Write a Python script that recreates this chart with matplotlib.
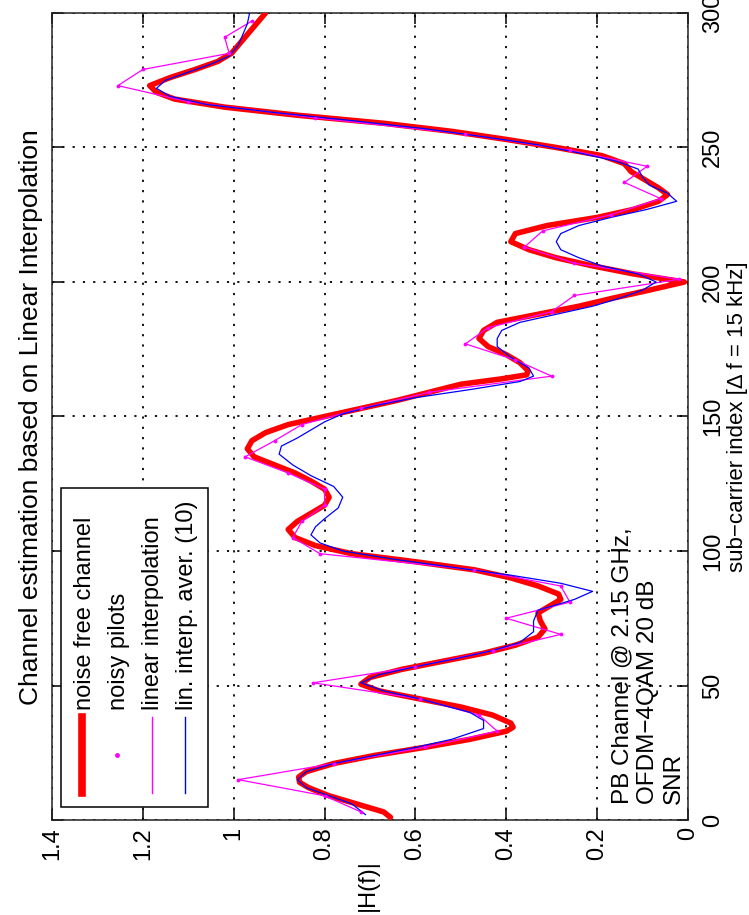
import matplotlib
matplotlib.use('Agg')
import matplotlib.pyplot as plt
from matplotlib.patches import Rectangle
from matplotlib.lines import Line2D

plt.rcParams['font.family'] = ['Liberation Sans', 'DejaVu Sans']

# ---------------- data ----------------
# noise free channel |H(f)| vs sub-carrier index
red_n = [1, 3, 6, 9, 12, 14, 16, 18, 21, 24, 27, 30, 33, 34.5, 36, 39, 42, 45, 48, 50.5,
         53, 56, 59, 62, 65, 68, 71, 74, 77, 80, 82, 84, 87, 90, 93, 96, 99, 102, 105, 108,
         111, 114, 117, 120, 123, 126, 129, 132, 135, 138, 141, 144, 147, 150, 153, 156, 159,
         162, 164, 165.5, 167, 170, 173, 176, 179, 182, 185, 188, 191, 194, 197, 200, 203,
         206, 209, 212, 215, 218, 221, 224, 227, 230, 232.5, 235, 238, 241, 244, 247, 250,
         253, 256, 259, 262, 265, 268, 270.5, 273, 276, 279, 282, 285, 288, 291, 294, 297, 300]
red_v = [0.655, 0.67, 0.73, 0.79, 0.835, 0.855, 0.857, 0.84, 0.78, 0.69, 0.58, 0.48, 0.40, 0.385,
         0.39, 0.43, 0.50, 0.59, 0.68, 0.72, 0.70, 0.63, 0.54, 0.45, 0.38, 0.33, 0.315, 0.325,
         0.33, 0.30, 0.28, 0.285, 0.33, 0.39, 0.47, 0.60, 0.74, 0.82, 0.865, 0.88, 0.86, 0.83,
         0.80, 0.79, 0.80, 0.83, 0.865, 0.91, 0.955, 0.97, 0.96, 0.93, 0.88, 0.80, 0.72, 0.64,
         0.57, 0.50, 0.41, 0.355, 0.352, 0.37, 0.40, 0.44, 0.46, 0.45, 0.42, 0.33, 0.24, 0.165,
         0.085, 0.008, 0.12, 0.21, 0.29, 0.35, 0.39, 0.38, 0.31, 0.20, 0.12, 0.065, 0.045,
         0.065, 0.095, 0.125, 0.14, 0.19, 0.29, 0.40, 0.52, 0.67, 0.86, 1.02, 1.13, 1.17,
         1.185, 1.14, 1.085, 1.035, 1.005, 0.99, 0.975, 0.96, 0.945, 0.93]

# noisy pilots (every 6th sub-carrier) -> linear interpolation
pilot_n = [3, 9, 15, 21, 27, 33, 39, 45, 51, 57, 63, 69, 75, 81, 87, 93, 99, 105, 111, 117,
           123, 129, 135, 141, 147, 153, 159, 165, 171, 177, 183, 189, 195, 201, 207, 213,
           219, 225, 231, 237, 243, 249, 255, 261, 267, 273, 279, 285, 291, 297]
pilot_v = [0.72, 0.80, 0.99, 0.78, 0.58, 0.42, 0.46, 0.59, 0.825, 0.60, 0.43, 0.28, 0.40,
           0.26, 0.28, 0.47, 0.81, 0.87, 0.85, 0.80, 0.80, 0.88, 0.975, 0.91, 0.85, 0.72,
           0.57, 0.30, 0.38, 0.49, 0.44, 0.30, 0.25, 0.02, 0.25, 0.36, 0.32, 0.17, 0.06,
           0.14, 0.09, 0.26, 0.49, 0.82, 1.10, 1.255, 1.20, 1.01, 1.02, 0.96]

# lin. interp. aver. (10)
blue_n = [2, 6, 9, 12, 15, 18, 21, 24, 27, 30, 34, 37, 40, 45, 48, 51, 54, 57, 60, 63, 66,
          70, 74, 78, 82, 85, 88, 91, 94, 97, 100, 103, 106, 109, 112, 116, 120, 124, 128,
          132, 136, 139, 142, 145, 148, 151, 154, 157, 160, 163, 165, 168, 172, 176, 179,
          182, 185, 188, 191, 194, 197, 200, 203, 206, 209, 212, 215, 218, 221, 224, 227,
          230, 233, 236, 239, 242, 245, 248, 251, 254, 257, 260, 263, 266, 269, 272, 275,
          278, 281, 284, 288, 292, 296, 300]
blue_v = [0.71, 0.74, 0.79, 0.84, 0.86, 0.84, 0.78, 0.69, 0.60, 0.52, 0.45, 0.45, 0.48,
          0.59, 0.67, 0.72, 0.68, 0.60, 0.51, 0.43, 0.37, 0.34, 0.34, 0.33, 0.25, 0.21, 0.28,
          0.39, 0.52, 0.65, 0.76, 0.81, 0.83, 0.82, 0.80, 0.77, 0.76, 0.78, 0.83, 0.87, 0.90,
          0.895, 0.86, 0.83, 0.80, 0.76, 0.69, 0.60, 0.48, 0.37, 0.34, 0.35, 0.39, 0.42, 0.42,
          0.41, 0.37, 0.29, 0.21, 0.15, 0.10, 0.07, 0.11, 0.19, 0.24, 0.28, 0.29, 0.28, 0.24,
          0.17, 0.09, 0.025, 0.045, 0.085, 0.10, 0.11, 0.16, 0.24, 0.33, 0.45, 0.58, 0.74,
          0.91, 1.06, 1.14, 1.17, 1.15, 1.10, 1.05, 1.01, 0.99, 0.98, 0.97, 0.965]

mag_ticks = [0, 0.2, 0.4, 0.6, 0.8, 1.0, 1.2, 1.4]
mag_labels = ['0', '0.2', '0.4', '0.6', '0.8', '1', '1.2', '1.4']
sc_ticks = [0, 50, 100, 150, 200, 250, 300]
sc_labels = ['0', '50', '100', '150', '200', '250', '300']
legend_labels = ['noise free channel', 'noisy pilots', 'linear interpolation',
                 'lin. interp. aver. (10)']

# ---------------- figure ----------------
W, H = 749, 915
FS = 17
fig = plt.figure(figsize=(W / 100, H / 100), dpi=100)
fig.patch.set_facecolor('white')


def fx(px):
    return px / W


def fy(py):
    return 1 - py / H


ax = fig.add_axes([fx(52), fy(820), (688 - 52) / W, (820 - 13) / H])
ax.plot(red_v, red_n, color='#ff0000', lw=4, solid_joinstyle='round',
        solid_capstyle='round', zorder=3)
ax.plot(pilot_v, pilot_n, color='#ff00ff', lw=0.9, zorder=4)
ax.plot(pilot_v, pilot_n, ls='none', marker='.', ms=3.5, color='#ff00ff', zorder=5)
ax.plot(blue_v, blue_n, color='#0000ff', lw=0.9, zorder=4)

ax.set_xlim(1.4, 0)
ax.set_ylim(0, 300)
ax.set_xticks(mag_ticks)
ax.set_xticklabels(mag_labels, rotation=90, fontsize=FS)
ax.set_yticks(sc_ticks)
ax.set_yticklabels(sc_labels, rotation=90, va='center', fontsize=FS)
ax.yaxis.tick_right()
ax.tick_params(direction='in', length=8, width=1.1, top=True, bottom=True, left=True,
               right=True, labelleft=False, labelright=True, colors='black')
ax.tick_params(axis='x', pad=5)
ax.tick_params(axis='y', pad=10)
for s in ax.spines.values():
    s.set_linewidth(1.1)
    s.set_color('#222222')
ax.grid(True, color='black', ls=(0, (1.2, 4.5)), lw=1.3)
ax.set_axisbelow(True)

ax.text(0.168, 6, 'PB Channel @ 2.15 GHz,\nOFDM\u22124QAM 20 dB\nSNR', rotation=90,
        rotation_mode='anchor', ha='left', va='top', fontsize=17.5, linespacing=1.22,
        zorder=6)

# labels and title
fig.text(fx(31), fy(417), 'Channel estimation based on Linear Interpolation', rotation=90,
         ha='center', va='center', fontsize=19)
fig.text(fx(368), fy(885), '|H(f)|', rotation=90, ha='center', va='center', fontsize=FS)
fig.text(fx(737), fy(417), 'sub\u2212carrier index [\u0394 f = 15 kHz]', rotation=90,
         ha='center', va='center', fontsize=16)

# legend (drawn rotated)
fig.add_artist(Rectangle((fx(61), fy(807)), (208 - 61) / W, (807 - 488) / H,
                         transform=fig.transFigure, facecolor='white', edgecolor='black',
                         lw=1.1, zorder=5))
lx = [82, 117, 152, 185]
fig.add_artist(Line2D([fx(lx[0])] * 2, [fy(793), fy(717)], color='#ff0000', lw=5.5,
                      transform=fig.transFigure, zorder=6))
fig.add_artist(Line2D([fx(lx[1])], [fy(755)], color='#ff00ff', marker='.', ms=5, ls='none',
                      transform=fig.transFigure, zorder=6))
fig.add_artist(Line2D([fx(lx[2])] * 2, [fy(793), fy(717)], color='#ff00ff', lw=1.0,
                      transform=fig.transFigure, zorder=6))
fig.add_artist(Line2D([fx(lx[3])] * 2, [fy(793), fy(717)], color='#0000ff', lw=1.0,
                      transform=fig.transFigure, zorder=6))
tx = [85, 119, 153, 187]
for x, lab in zip(tx, legend_labels):
    fig.text(fx(x), fy(710), lab, rotation=90, rotation_mode='anchor', ha='left',
             va='center', fontsize=FS, zorder=7)

fig.savefig('out.png', dpi=100, facecolor='white')
